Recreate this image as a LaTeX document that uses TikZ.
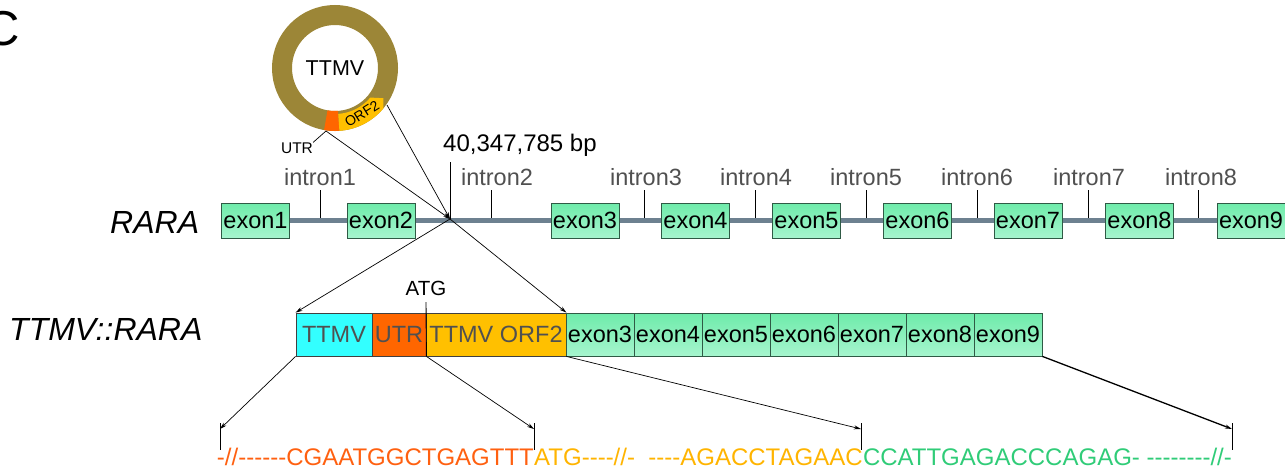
\documentclass[tikz,border=0pt]{standalone}
\usepackage{fontspec}
\setmainfont{Liberation Sans}[Ligatures=TeXOff]
\usetikzlibrary{arrows.meta,backgrounds}
\definecolor{ringcol}{HTML}{9C8637}
\definecolor{utrcol}{HTML}{FF6600}
\definecolor{orfcol}{HTML}{FFC000}
\definecolor{ttmvcol}{HTML}{33FFFF}
\definecolor{exontop}{HTML}{6EEBAA}
\definecolor{exonbot}{HTML}{A6F5CE}
\definecolor{exonline}{HTML}{2F5A45}
\definecolor{bbcol}{HTML}{6D8190}
\definecolor{labgray}{HTML}{505050}
\definecolor{seqor}{HTML}{FF6010}
\definecolor{seqye}{HTML}{FFB400}
\definecolor{seqgr}{HTML}{30CC78}
\newcommand\myfs[1]{\fontsize{#1}{#1}\selectfont}
\begin{document}
\begin{tikzpicture}[x=1pt,y=-1pt,
  exonbox/.style={draw=exonline, line width=0.8pt, top color=exontop, bottom color=exonbot,
    minimum width=68pt, minimum height=35pt, inner sep=0pt, font=\myfs{23.5}},
  fusbox/.style={draw=black!75, line width=0.8pt, minimum height=43pt, inner sep=0pt, font=\myfs{23.5}},
  intronlab/.style={anchor=base, inner sep=0pt, text=labgray, font=\myfs{23.5}},
  tickline/.style={draw=black, line width=0.9pt},
  conn/.style={draw=black, line width=0.7pt},
  arr/.style={conn, -{Stealth[length=7pt,width=4pt]}},
  seqtext/.style={inner sep=0pt, font=\myfs{24}},
]
\useasboundingbox (0,0) rectangle (1285,469);

% panel letter
\node[anchor=base west, inner sep=0pt, font=\myfs{49}] (panel) at (-16,45) {C};

% TTMV ring
\node[circle, draw=ringcol, line width=20pt, minimum size=106pt, inner sep=0pt, font=\myfs{21.5}] (ttmv) at (335,68) {TTMV};
\fill[utrcol] plot[domain=86:100, samples=8] ({335+63*cos(\x)},{68+63*sin(\x)})
  -- plot[domain=100:86, samples=8] ({335+43*cos(\x)},{68+43*sin(\x)}) -- cycle;
\fill[orfcol] plot[domain=86:40, samples=20] ({335+63*cos(\x)},{68+63*sin(\x)})
  -- ({335+57*cos(32)},{68+57*sin(32)})
  -- plot[domain=40:86, samples=20] ({335+46*cos(\x)},{68+46*sin(\x)}) -- cycle;
\node[rotate=32, inner sep=0pt, font=\myfs{14}] (orflab) at (362,114) {ORF2};
\node[inner sep=0pt, font=\myfs{15.5}] (utrlab) at (297,148) {UTR};
\coordinate (utrpt) at (326,131);
\coordinate (orfpt) at (387,105);

% RARA gene
\node[anchor=base west, inner sep=0pt, font=\myfs{32}\itshape] (rara) at (110,233) {RARA};
\foreach \i/\x in {1/255.5,2/381,3/585,4/695.5,5/806.5,6/917.5,7/1028,8/1139.5,9/1251}
  \node[exonbox] (r\i) at (\x,220.5) {exon\i};
\begin{pgfonlayer}{background}
  \draw[bbcol, line width=5pt] (r1.east) -- (r9.west);
\end{pgfonlayer}
\foreach \i/\x/\lx in {1/320/320,2/491/497,3/644/646,4/755/756,5/866/866,6/977/977,7/1088/1089,8/1198/1201}{
  \coordinate (itb\i) at (\x,218);
  \coordinate (itt\i) at (\x,190);
  \draw[tickline] (itb\i) -- (itt\i);
  \node[intronlab] (il\i) at (\lx,185) {intron\i};
}

% insertion site
\coordinate (ins) at (450,219);
\coordinate (bptop) at (450,162);
\node[anchor=base west, inner sep=0pt, font=\myfs{24}] (bp) at (443,151) {40,347,785 bp};
\draw[tickline] (bptop) -- (ins);
\draw[arr] (utrpt) -- (ins);
\draw[arr] (orfpt) -- (ins);
\draw[conn] (utrpt) -- (utrlab.north east);

% fusion
\node[anchor=base west, inner sep=0pt, font=\myfs{32}\itshape] (fusion) at (9,340) {TTMV::RARA};
\node[fusbox, fill=ttmvcol, minimum width=76pt, text=labgray] (fTTMV) at (334,334.5) {TTMV};
\node[fusbox, fill=utrcol, minimum width=54pt, text=labgray] (fUTR) at (399,334.5) {UTR};
\node[fusbox, fill=orfcol, minimum width=140pt, text=labgray] (fORF) at (496,334.5) {TTMV ORF2};
\foreach \i/\x in {3/600,4/668,5/736,6/804,7/872,8/940,9/1008}
  \node[exonbox, minimum height=43pt] (f\i) at (\x,334.5) {exon\i};
\node[anchor=base, inner sep=0pt, font=\myfs{20.5}] (atg) at (426,295) {ATG};
\coordinate (atgtop) at (426,302);
\draw[tickline] (atgtop) -- (fUTR.south east);
\draw[arr] (ins) -- (fTTMV.north west);
\draw[arr] (ins) -- (fORF.north east);

% sequence ticks
\foreach \n/\x in {1/220,2/534,3/861,4/1232}{
  \coordinate (st\n) at (\x,423);
  \coordinate (sb\n) at (\x,450);
  \coordinate (sa\n) at (\x,429);
  \draw[tickline] (st\n) -- (sb\n);
}
\draw[arr] (fTTMV.south west) -- (sa1);
\draw[arr] (fUTR.south east) -- (sa2);
\draw[arr] (fORF.south east) -- (sa3);
\draw[arr, line width=1.3pt] (f9.south east) -- (sa4);

% sequence
\node[seqtext, text=seqor, anchor=base east] (q1) at (534,465.5) {-//------CGAATGGCTGAGTTT};
\node[seqtext, text=seqye, anchor=base west] (q2) at (q1.base east) {ATG----//-\ \ ----AGACCTAGAAC};
\node[seqtext, text=seqgr, anchor=base west] (q3) at (q2.base east) {CCATTGAGACCCAGAG-\ --------//-};
\end{tikzpicture}
\end{document}
